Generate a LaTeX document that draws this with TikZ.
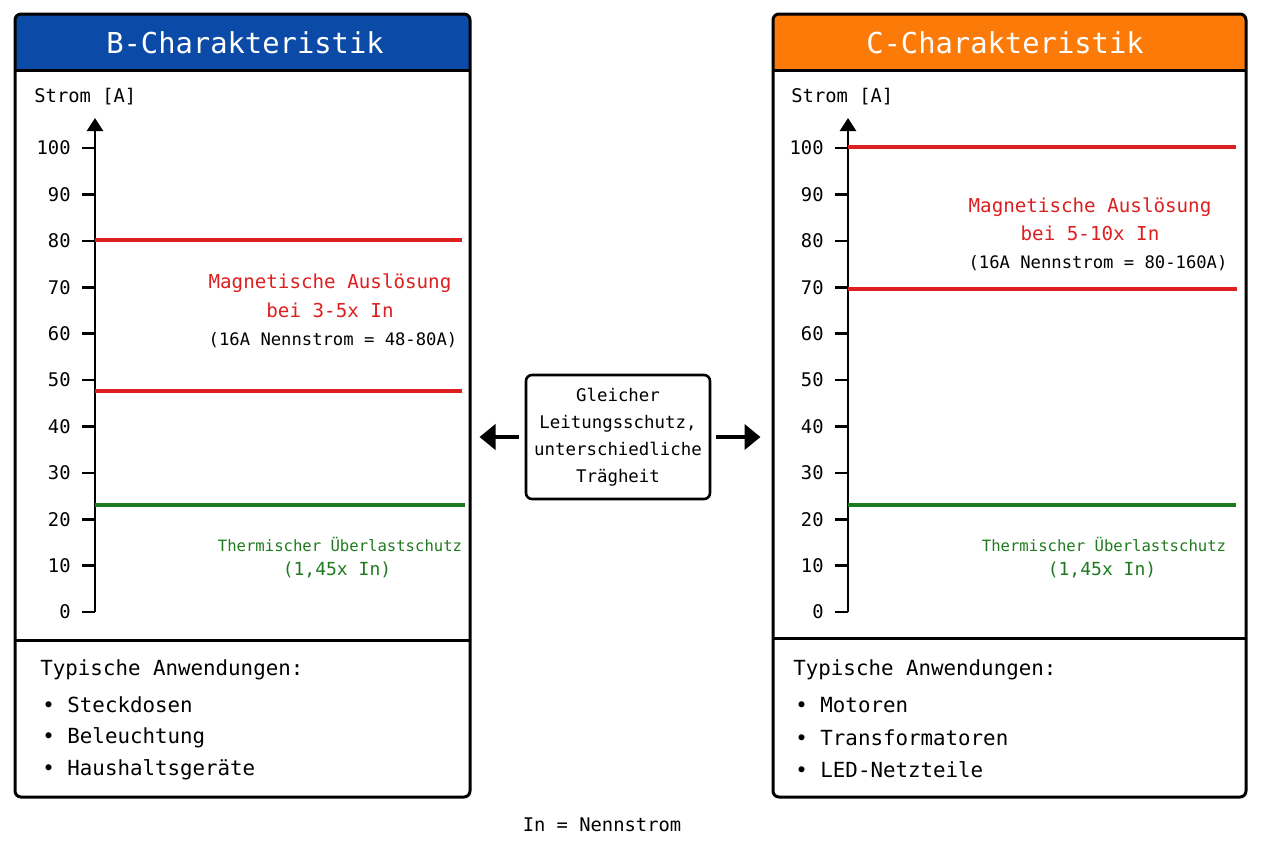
\documentclass[tikz,border=0pt]{standalone}
\usepackage{fontspec}
\setmainfont{DejaVu Sans Mono}
\usetikzlibrary{arrows.meta}

\definecolor{bblue}{HTML}{0B4AA6}
\definecolor{corange}{HTML}{FC7A08}
\definecolor{tripred}{HTML}{DD1F1F}
\definecolor{thermgreen}{HTML}{1E7A1E}

\tikzset{
  panel/.style={draw, line width=1.5pt, rounded corners=3pt, inner sep=0pt},
  titletxt/.style={text=white, font=\fontsize{14.4}{16}\selectfont},
  axislbl/.style={font=\fontsize{9.4}{11}\selectfont, inner sep=0pt},
  magtxt/.style={text=tripred, font=\fontsize{9.6}{11}\selectfont},
  smalltxt/.style={font=\fontsize{8.6}{10}\selectfont},
  thermtxt/.style={text=thermgreen, font=\fontsize{7.8}{9}\selectfont},
  thermsub/.style={text=thermgreen, font=\fontsize{9}{10}\selectfont},
  apptxt/.style={anchor=west, inner sep=0pt, font=\fontsize{10.4}{12}\selectfont},
  axis/.style={line width=1.3pt, -{Triangle[length=6.5pt,width=8pt]}},
  tick/.style={line width=1.3pt},
  tripline/.style={tripred, line width=1.8pt},
  thermline/.style={thermgreen, line width=1.7pt},
  midbox/.style={draw, line width=1.3pt, rounded corners=3pt, align=center,
    minimum width=92pt, minimum height=62pt, inner sep=0pt,
    font=\fontsize{8.7}{13.5}\selectfont},
  bigarrow/.style={line width=2.4pt, -{Triangle[length=8pt,width=12.5pt]}}
}

\begin{document}
\begin{tikzpicture}[x=0.5pt, y=-0.5pt]
\useasboundingbox (0,0) rectangle (1280,853);

% B-Charakteristik
\begin{scope}
\clip[rounded corners=3pt] (15,14) rectangle (470,797);
\fill[bblue] (15,14) rectangle (470,70);
\end{scope}
\node[panel, minimum width=227.5pt, minimum height=391.5pt] (bpanel) at (242.5,405.5) {};
\draw[line width=1.5pt] (15,70) -- (470,70);
\draw[line width=1.5pt] (15,640) -- (470,640);
\node[titletxt] (btitle) at (245,43) {B-Charakteristik};
\node[axislbl, anchor=west] (bstrom) at (34,97) {Strom [A]};
\coordinate (borigin) at (95,612);
\coordinate (btop) at (95,118);
\draw[axis] (borigin) -- (btop);
\foreach \v in {0,10,...,100} {
  \draw[tick] (82,612-4.64*\v) -- (95,612-4.64*\v);
  \node[axislbl, anchor=east] at (71,612-4.64*\v) {\v};
}
\draw[tripline] (95,240) -- (462,240);
\draw[tripline] (95,391) -- (462,391);
\draw[thermline] (95,505) -- (465,505);
\node[magtxt] (bmag) at (330,283) {Magnetische Auslösung};
\node[magtxt] (bmagx) at (330,310) {bei 3-5x In};
\node[smalltxt] (bmagA) at (333,340) {(16A Nennstrom = 48-80A)};
\node[thermtxt] (btherm) at (340,544) {Thermischer Überlastschutz};
\node[thermsub] (bthermx) at (337,570) {(1,45x In)};
\node[apptxt] (bapp) at (40,670) {Typische Anwendungen:};
\node[apptxt] (bapp1) at (42,705) {• Steckdosen};
\node[apptxt] (bapp2) at (42,738) {• Beleuchtung};
\node[apptxt] (bapp3) at (42,770) {• Haushaltsgeräte};

% C-Charakteristik
\begin{scope}
\clip[rounded corners=3pt] (773,14) rectangle (1246,797);
\fill[corange] (773,14) rectangle (1246,70);
\end{scope}
\node[panel, minimum width=236.5pt, minimum height=391.5pt] (cpanel) at (1009.5,405.5) {};
\draw[line width=1.5pt] (773,70) -- (1246,70);
\draw[line width=1.5pt] (773,638) -- (1246,638);
\node[titletxt] (ctitle) at (1005,43) {C-Charakteristik};
\node[axislbl, anchor=west] (cstrom) at (791,97) {Strom [A]};
\coordinate (corigin) at (848,612);
\coordinate (ctop) at (848,118);
\draw[axis] (corigin) -- (ctop);
\foreach \v in {0,10,...,100} {
  \draw[tick] (835,612-4.64*\v) -- (848,612-4.64*\v);
  \node[axislbl, anchor=east] at (824,612-4.64*\v) {\v};
}
\draw[tripline] (848,147) -- (1236,147);
\draw[tripline] (848,289) -- (1237,289);
\draw[thermline] (848,505) -- (1236,505);
\node[magtxt] (cmag) at (1090,207) {Magnetische Auslösung};
\node[magtxt] (cmagx) at (1090,233) {bei 5-10x In};
\node[smalltxt] (cmagA) at (1098,263) {(16A Nennstrom = 80-160A)};
\node[thermtxt] (ctherm) at (1104,544) {Thermischer Überlastschutz};
\node[thermsub] (cthermx) at (1102,570) {(1,45x In)};
\node[apptxt] (capp) at (793,670) {Typische Anwendungen:};
\node[apptxt] (capp1) at (795,705) {• Motoren};
\node[apptxt] (capp2) at (795,738) {• Transformatoren};
\node[apptxt] (capp3) at (795,770) {• LED-Netzteile};

% Mitte
\node[midbox] (mid) at (618,437) {Gleicher\\Leitungsschutz,\\unterschiedliche\\Trägheit};
\draw[bigarrow] ([xshift=-3pt]mid.west) -- ([xshift=4pt]mid.west -| bpanel.east);
\draw[bigarrow] ([xshift=2.5pt]mid.east) -- ([xshift=-5.5pt]mid.east -| cpanel.west);

\node[axislbl] (legend) at (602,825) {In = Nennstrom};
\end{tikzpicture}
\end{document}
